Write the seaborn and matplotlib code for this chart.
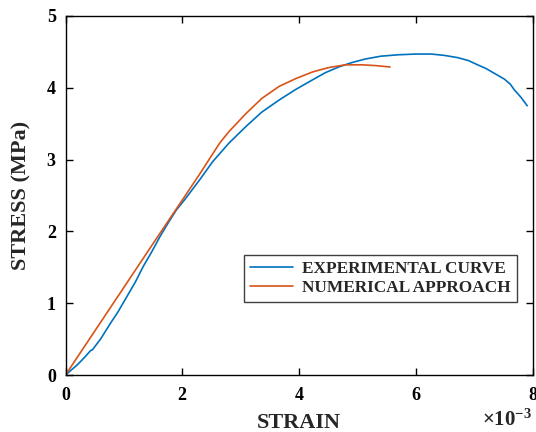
import matplotlib
matplotlib.use("Agg")
import matplotlib.pyplot as plt
import seaborn as sns
import pandas as pd

# strain in units of 1e-3, stress in MPa
exp_strain = [0.0, 0.10, 0.20, 0.32, 0.43, 0.46, 0.60, 0.77, 0.90, 1.05, 1.20, 1.33, 1.48, 1.62,
              1.76, 1.90, 2.04, 2.30, 2.52, 2.80, 3.09, 3.36, 3.66, 3.95, 4.23, 4.45, 4.68,
              4.90, 5.13, 5.40, 5.70, 6.00, 6.27, 6.50, 6.72, 6.90, 7.06, 7.20, 7.35, 7.52,
              7.62, 7.69, 7.80, 7.91]
exp_stress = [0.0, 0.07, 0.14, 0.24, 0.34, 0.35, 0.50, 0.72, 0.88, 1.09, 1.30, 1.51, 1.72, 1.93,
              2.12, 2.30, 2.44, 2.72, 2.97, 3.23, 3.46, 3.66, 3.83, 3.98, 4.11, 4.21, 4.29,
              4.35, 4.40, 4.44, 4.46, 4.47, 4.47, 4.45, 4.42, 4.38, 4.32, 4.27, 4.20, 4.12,
              4.05, 3.97, 3.87, 3.75]
num_strain = [0.0, 0.50, 1.00, 1.50, 2.02, 2.30, 2.53, 2.65, 2.80, 3.09, 3.36, 3.66, 3.95,
              4.23, 4.50, 4.79, 5.08, 5.30, 5.56]
num_stress = [0.0, 0.61, 1.22, 1.83, 2.46, 2.80, 3.09, 3.24, 3.39, 3.64, 3.85, 4.02, 4.13,
              4.22, 4.28, 4.32, 4.32, 4.31, 4.29]
series_names = ["EXPERIMENTAL CURVE", "NUMERICAL APPROACH"]
colors = ["#0072BD", "#D95319"]
x_ticks = [0, 2, 4, 6, 8]
y_ticks = [0, 1, 2, 3, 4, 5]

df = pd.concat([
    pd.DataFrame({"strain": exp_strain, "stress": exp_stress, "series": series_names[0]}),
    pd.DataFrame({"strain": num_strain, "stress": num_stress, "series": series_names[1]}),
], ignore_index=True)

sns.set_style("ticks")
plt.rcParams["font.family"] = ["Liberation Serif", "DejaVu Serif"]
plt.rcParams["font.weight"] = "bold"
plt.rcParams["mathtext.default"] = "regular"

fig = plt.figure(figsize=(5.36, 4.32), dpi=100)
ax = fig.add_axes([65.5 / 536, 57 / 432, 467 / 536, 359 / 432])

sns.lineplot(data=df, x="strain", y="stress", hue="series", palette=colors,
             sort=False, estimator=None, linewidth=1.2, ax=ax)

ax.set_xlim(0, 8)
ax.set_ylim(0, 5)
ax.set_xticks(x_ticks)
ax.set_yticks(y_ticks)
ax.tick_params(direction="in", length=5, width=1, top=True, right=True,
               labelsize=13, colors="black")
ax.tick_params(axis="x", pad=9)
ax.tick_params(axis="y", pad=7)
for lab in ax.get_xticklabels() + ax.get_yticklabels():
    lab.set_fontweight("bold")
for s in ax.spines.values():
    s.set_visible(True)
    s.set_linewidth(1)
    s.set_color("black")

ax.set_xlabel("STRAIN", fontsize=16, fontweight="bold", labelpad=6)
ax.set_ylabel("STRESS (MPa)", fontsize=16, fontweight="bold", labelpad=11)

fig.text(532 / 536, 0.002, "×10$^{-3}$", ha="right", va="bottom", fontsize=15,
         fontweight="bold")

leg = ax.legend(loc="lower right", bbox_to_anchor=(0.966, 0.203), frameon=True,
                fancybox=False, framealpha=1, edgecolor="#404040",
                prop={"weight": "bold", "size": 12.4}, handlelength=2.5,
                borderpad=0.35, labelspacing=0.15, handletextpad=0.5,
                borderaxespad=0)
leg.get_frame().set_linewidth(1)

fig.savefig("out.png", dpi=100)
